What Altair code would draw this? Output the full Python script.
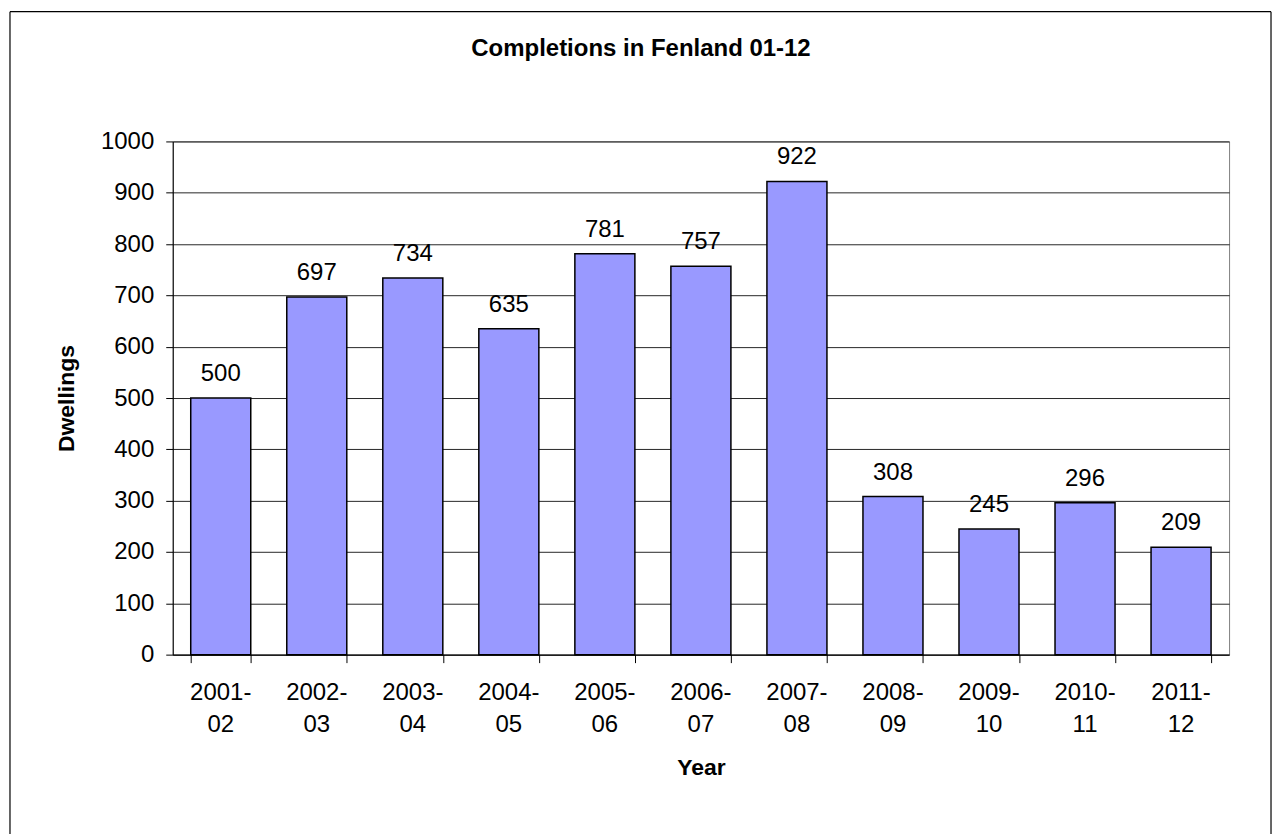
import altair as alt
import pandas as pd

# Annual housing completions in Fenland
years = ["2001-02", "2002-03", "2003-04", "2004-05", "2005-06", "2006-07",
         "2007-08", "2008-09", "2009-10", "2010-11", "2011-12"]
dwellings = [500, 697, 734, 635, 781, 757, 922, 308, 245, 296, 209]

df = pd.DataFrame({"Year": years, "Dwellings": dwellings})

FONT = "Liberation Sans"
LABEL_SIZE = 24

x_enc = alt.X(
    "Year:N",
    sort=years,
    title="Year",
    scale=alt.Scale(paddingInner=0.375, paddingOuter=0.1875),
    axis=alt.Axis(
        labels=False,
        tickBand="extent",
        tickSize=8,
        titlePadding=94,
    ),
)
y_enc = alt.Y(
    "Dwellings:Q",
    title="Dwellings",
    scale=alt.Scale(domain=[0, 1000], nice=False),
    axis=alt.Axis(values=list(range(0, 1001, 100)), format="d", tickSize=7,
                  labelPadding=12, titlePadding=22, grid=True),
)

# outer frame: left, top and right edges (the bottom edge falls below the page)
one = pd.DataFrame({"k": [0]})
frame_left = alt.Chart(one).mark_rule(color="black", strokeWidth=1.2).encode(
    x=alt.value(-163), y=alt.value(-130), y2=alt.value(694)
)
frame_right = alt.Chart(one).mark_rule(color="black", strokeWidth=1.2).encode(
    x=alt.value(1100), y=alt.value(-130), y2=alt.value(694)
)
frame_top = alt.Chart(one).mark_rule(color="black", strokeWidth=1.2).encode(
    x=alt.value(-163), x2=alt.value(1100), y=alt.value(-130)
)

bars = alt.Chart(df).mark_bar(
    color="#9999FF", stroke="black", strokeWidth=1.5
).encode(x=x_enc, y=y_enc)

values = alt.Chart(df).mark_text(
    baseline="alphabetic", dy=-17, fontSize=LABEL_SIZE, font=FONT, color="black"
).encode(x=alt.X("Year:N", sort=years), y="Dwellings:Q", text="Dwellings:Q")

# two-line category labels under the x axis
cat_labels = alt.Chart(df).transform_calculate(
    lbl="replace(datum.Year, '-', '-\\n')"
).mark_text(
    baseline="top", lineBreak="\n", lineHeight=33, fontSize=LABEL_SIZE,
    font=FONT, color="black"
).encode(x=alt.X("Year:N", sort=years), y=alt.value(540), text="lbl:N")

chart = alt.layer(
    bars, values, cat_labels, frame_left, frame_right, frame_top
).properties(
    width=1058,
    height=514,
    padding={"left": 9, "top": 10, "right": 6, "bottom": 0},
    background="white",
    title=alt.Title(
        "Completions in Fenland 01-12",
        fontSize=24,
        fontWeight="bold",
        font=FONT,
        anchor="middle",
        frame="group",
        dx=-60,
        offset=-50,
        color="black",
    ),
).configure_view(
    stroke="#808080", strokeWidth=1
).configure_axis(
    labelFont=FONT,
    titleFont=FONT,
    labelFontSize=LABEL_SIZE,
    titleFontSize=23,
    titleFontWeight="bold",
    labelColor="black",
    titleColor="black",
    domainColor="black",
    tickColor="black",
    gridColor="#000000",
    gridOpacity=0.85,
    domainWidth=1,
)

chart.save("out.html", embed_options={"renderer": "svg", "actions": False})
